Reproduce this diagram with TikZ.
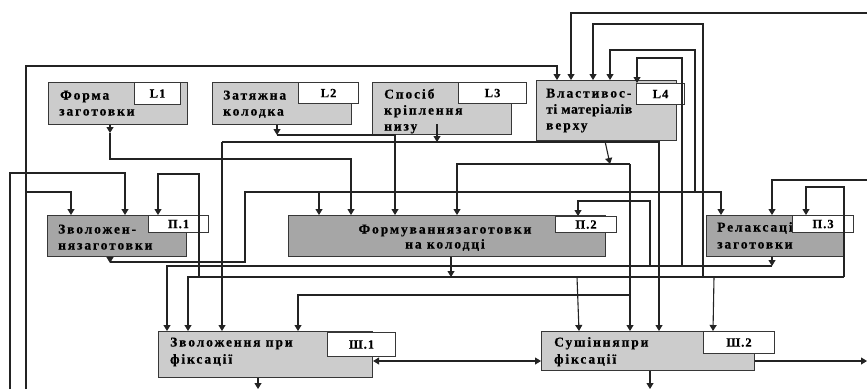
\documentclass[tikz,border=0pt]{standalone}
\usepackage{fontspec}
\setmainfont{Liberation Serif}
\newfontfamily\lbl[LetterSpace=14, BoldFeatures={FakeBold=0.6}]{Liberation Serif}
\newfontfamily\lbln[LetterSpace=5, BoldFeatures={FakeBold=0.6}]{Liberation Serif}
\newfontfamily\tagf[LetterSpace=8, BoldFeatures={FakeBold=0.6}]{Liberation Serif}
\usetikzlibrary{arrows.meta}
\definecolor{lightg}{RGB}{204,204,204}
\definecolor{darkg}{RGB}{166,166,166}
\definecolor{edgec}{RGB}{55,55,55}
\definecolor{wirec}{RGB}{35,35,35}
\tikzset{
  lbox/.style={draw=edgec, fill=lightg, line width=1.1pt, inner sep=0pt, anchor=north west},
  dbox/.style={lbox, fill=darkg},
  tag/.style={draw=edgec, fill=white, line width=1.1pt, inner sep=0pt, anchor=north west,
    font=\tagf\bfseries\fontsize{12.5}{13}\selectfont},
  txt/.style={anchor=west, inner sep=0pt, text height=9pt, text depth=0pt,
    font=\lbl\bfseries\fontsize{13.5}{14}\selectfont},
  ntxt/.style={txt, font=\lbln\bfseries\fontsize{13.5}{14}\selectfont},
  ctxt/.style={txt, anchor=center},
  wire/.style={draw=wirec, line width=1.1pt},
  arr/.style={wire, -{Triangle[width=7pt,length=6pt]}},
  arrb/.style={wire, {Triangle[width=7pt,length=6pt]}-{Triangle[width=7pt,length=6pt]}}
}
\begin{document}
\begin{tikzpicture}[x=1pt,y=-1pt]
\useasboundingbox (0,0) rectangle (867,389);
\fill[white] (0,0) rectangle (867,389);
% boxes
\node[lbox, minimum width=139pt, minimum height=42pt] (L1) at (48,82) {};
\node[lbox, minimum width=139pt, minimum height=42pt] (L2) at (212,82) {};
\node[lbox, minimum width=139pt, minimum height=52pt] (L3) at (372,82) {};
\node[lbox, minimum width=140pt, minimum height=60pt] (L4) at (536,80) {};
\node[dbox, minimum width=139pt, minimum height=41pt] (P1) at (47,215) {};
\node[dbox, minimum width=317pt, minimum height=41pt] (P2) at (288,215) {};
\node[dbox, minimum width=138pt, minimum height=41pt] (P3) at (706,215) {};
\node[lbox, minimum width=214pt, minimum height=46pt] (S1) at (158,331) {};
\node[lbox, minimum width=213pt, minimum height=39pt] (S2) at (541,331) {};
% texts
\node[txt] (L1a) at (60,95) {Форма};
\node[txt] (L1b) at (59,111) {заготовки};
\node[txt] (L2a) at (223,95) {Затяжна};
\node[txt] (L2b) at (223,111) {колодка};
\node[txt] (L3a) at (384,94) {Спосіб};
\node[txt] (L3b) at (384,110) {кріплення};
\node[txt] (L3c) at (384,126) {низу};
\node[txt] (L4a) at (546,93) {Властивос-};
\node[ntxt] (L4b) at (546,109) {ті матеріалів};
\node[txt] (L4c) at (546,125) {верху};
\node[txt] (P1a) at (58,229) {Зволожен-};
\node[txt] (P1b) at (58,245) {нязаготовки};
\node[ctxt] (P2a) at (445,229) {Формуваннязаготовки};
\node[ctxt] (P2b) at (445,244) {на колодці};
\node[txt] (P3a) at (717,227) {Релаксація};
\node[txt] (P3b) at (717,244) {заготовки};
\node[txt] (S1a) at (170,342) {Зволоження при};
\node[txt] (S1b) at (170,359) {фіксації};
\node[txt] (S2a) at (554,342) {Сушінняпри};
\node[txt] (S2b) at (554,359) {фіксації};
% tags
\node[tag, minimum width=46pt, minimum height=22pt] (L1l) at (134,82) {L1};
\node[tag, minimum width=60pt, minimum height=21pt] (L2l) at (298,82) {L2};
\node[tag, minimum width=68pt, minimum height=21pt] (L3l) at (458,82) {L3};
\node[tag, minimum width=48pt, minimum height=21pt] (L4l) at (636,83) {L4};
\node[tag, minimum width=60pt, minimum height=17pt] (P1l) at (148,215) {П.1};
\node[tag, minimum width=61pt, minimum height=16pt] (P2l) at (555,216) {П.2};
\node[tag, minimum width=61pt, minimum height=17pt] (P3l) at (792,215) {П.3};
\node[tag, minimum width=68pt, minimum height=24pt] (S1l) at (327,332) {Ш.1};
\node[tag, minimum width=71pt, minimum height=22pt] (S2l) at (703,331) {Ш.2};
% free ends
\coordinate (eL1) at (26,389);
\coordinate (eL2) at (10,389);
\coordinate (eR1) at (867,13);
\coordinate (eR2) at (867,180);
\coordinate (eR3) at (867,361);
\coordinate (eB1) at (258,389);
\coordinate (eB2) at (650,389);
% feedback lines at top
\draw[arr] (eL1) |- (557,66) -- (557,0 |- L4.north);
\draw[arr] (26,192) -- (71,192) -- (71,0 |- P1.north);
\draw[arr] (eL2) |- (125,173) -- (125,0 |- P1.north);
\draw[arr] (eR1) -- (571,13) -- (571,0 |- L4.north);
\draw[arr] (703,277) -- (703,24) -- (593,24) -- (593,0 |- L4.north);
\draw[arr] (695,192) -- (695,50) -- (610,50) -- (610,0 |- L4.north);
\draw[arr] (682,266) -- (682,58) -- (637,58) -- (637,0 |- L4l.north);
% L1
\draw[arr] (110,0 |- L1.south) -- (110,133);
\draw[arr] (110,133) |- (351,159) -- (351,0 |- P2.north);
% L2
\draw[arr] (277,0 |- L2.south) -- (277,135);
\draw[arr] (277,135) -- (395,135) -- (395,0 |- P2.north);
% L3
\draw[arr] (437,124) -- (437,142);
\draw[wire] (659,142) -- (222,142);
\draw[arr] (222,142) -- (222,0 |- S1.north);
% L4
\draw[arr] (659,0 |- L4.south) -- (659,0 |- S2.north);
\draw[arr] (605,0 |- L4.south) -- (610,164);
\draw[arr] (630,164) -- (457,164) -- (457,0 |- P2.north);
\draw[arr] (630,164) -- (630,0 |- S2.north);
\draw[arr] (630,295) -- (298,295) -- (298,0 |- S1.north);
% P1 output
\draw[arr] (110,0 |- P1.south) -- (110,263);
\draw[arr] (110,262) -- (245,262) -- (245,192) -- (721,192) -- (721,0 |- P3.north);
\draw[arr] (319,192) -- (319,0 |- P2.north);
% P1 loop
\draw[arr] (199,277) -- (199,174) -- (158,174) -- (158,0 |- P1l.north);
% P3 output
\draw[arr] (772,0 |- P3.south) -- (772,266);
\draw[arr] (772,266) -- (167,266) -- (167,0 |- S1.north);
\draw[arr] (650,266) -- (650,201) -- (578,201) -- (578,0 |- P2l.north);
% P2 output
\draw[arr] (451,0 |- P2.south) -- (451,277);
% line 277
\draw[arr] (844,277) -- (188,277) -- (188,0 |- S1.north);
\draw[arr] (577,277) -- (579,0 |- S2.north);
\draw[arr] (714,277) -- (713,0 |- S2.north);
% P3 loop
\draw[arr] (844,277) -- (844,187) -- (806,187) -- (806,0 |- P3l.north);
\draw[arr] (eR2) -- (772,180) -- (772,0 |- P3.north);
% S blocks
\draw[arrb] (S1.east |- 0,361) -- (S2.west |- 0,361);
\draw[arr] (S2.east |- 0,361) -- (eR3);
\draw[arr] (258,0 |- S1.south) -- (eB1);
\draw[arr] (650,0 |- S2.south) -- (eB2);
\end{tikzpicture}
\end{document}
